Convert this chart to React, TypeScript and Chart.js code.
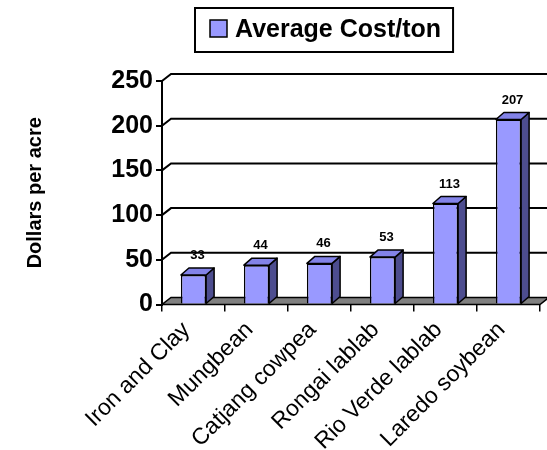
import React, { useEffect, useRef } from 'react';
import { Chart, registerables } from 'chart.js';

Chart.register(...registerables);

const categories = ['Iron and Clay', 'Mungbean', 'Catjang cowpea', 'Rongai lablab', 'Rio Verde lablab', 'Laredo soybean'];
const costValues = [33, 44, 46, 53, 113, 207];
const seriesLabel = 'Average Cost/ton';
const yTickValues = [0, 50, 100, 150, 200, 250];
const yTitle = 'Dollars per acre';

const FONT = '"Liberation Sans", Arial, Helvetica, sans-serif';
const FRONT = '#9999FF';
const TOP = '#8383E8';
const SIDE = '#4D4D8F';
const FLOOR = '#808080';
const WALL_DX = 9;
const WALL_DY = -7;
const BAR_DX = 8;
const BAR_DY = -7;

const threeD = {
  id: 'threeD',
  beforeDatasetsDraw(chart: any) {
    const { ctx, chartArea, scales } = chart;
    const { left, right } = chartArea;
    const y = scales.y;
    ctx.save();
    ctx.strokeStyle = '#000';
    ctx.lineWidth = 2;
    y.ticks.forEach((t: any) => {
      if (t.value === 0) return;
      const py = y.getPixelForValue(t.value);
      ctx.beginPath();
      ctx.moveTo(left, py);
      ctx.lineTo(left + WALL_DX, py + WALL_DY);
      ctx.lineTo(right + WALL_DX, py + WALL_DY);
      ctx.stroke();
    });
    const p0 = y.getPixelForValue(0);
    ctx.beginPath();
    ctx.moveTo(left, p0);
    ctx.lineTo(right, p0);
    ctx.lineTo(right + WALL_DX, p0 + WALL_DY);
    ctx.lineTo(left + WALL_DX, p0 + WALL_DY);
    ctx.closePath();
    ctx.fillStyle = FLOOR;
    ctx.fill();
    ctx.lineWidth = 1.5;
    ctx.stroke();
    ctx.restore();
  },
  afterDatasetsDraw(chart: any) {
    const { ctx } = chart;
    const meta = chart.getDatasetMeta(0);
    const ds = chart.data.datasets[0];
    ctx.save();
    ctx.strokeStyle = '#000';
    ctx.lineWidth = 1.5;
    ctx.lineJoin = 'round';
    meta.data.forEach((bar: any, i: number) => {
      const { x, y, base, width } = bar.getProps(['x', 'y', 'base', 'width'], true);
      const l = x - width / 2;
      const r = x + width / 2;
      // side face
      ctx.beginPath();
      ctx.moveTo(r, y);
      ctx.lineTo(r + BAR_DX, y + BAR_DY);
      ctx.lineTo(r + BAR_DX, base + BAR_DY);
      ctx.lineTo(r, base);
      ctx.closePath();
      ctx.fillStyle = SIDE;
      ctx.fill();
      ctx.stroke();
      // top face
      ctx.beginPath();
      ctx.moveTo(l, y);
      ctx.lineTo(l + BAR_DX, y + BAR_DY);
      ctx.lineTo(r + BAR_DX, y + BAR_DY);
      ctx.lineTo(r, y);
      ctx.closePath();
      ctx.fillStyle = TOP;
      ctx.fill();
      ctx.stroke();
      // value label
      ctx.fillStyle = '#000';
      ctx.font = `bold 13px ${FONT}`;
      ctx.textAlign = 'center';
      ctx.textBaseline = 'bottom';
      ctx.fillText(String(ds.data[i]), x + BAR_DX / 2, y + BAR_DY - 6);
    });
    ctx.restore();
  },
};

const boxLegend = {
  id: 'boxLegend',
  afterDraw(chart: any) {
    const { ctx } = chart;
    const ds = chart.data.datasets[0];
    ctx.save();
    ctx.font = `bold 25px ${FONT}`;
    const tw = ctx.measureText(ds.label).width;
    const x0 = 195;
    const y0 = 8;
    const h = 44;
    const padL = 15;
    const sq = 17;
    const gap = 8;
    const padR = 12;
    const w = padL + sq + gap + tw + padR;
    ctx.fillStyle = '#fff';
    ctx.fillRect(x0, y0, w, h);
    ctx.strokeStyle = '#000';
    ctx.lineWidth = 2;
    ctx.strokeRect(x0, y0, w, h);
    ctx.fillStyle = ds.backgroundColor;
    ctx.fillRect(x0 + padL, y0 + 12, sq, sq);
    ctx.lineWidth = 1.5;
    ctx.strokeRect(x0 + padL, y0 + 12, sq, sq);
    ctx.fillStyle = '#000';
    ctx.textAlign = 'left';
    ctx.textBaseline = 'alphabetic';
    ctx.fillText(ds.label, x0 + padL + sq + gap, y0 + 29);
    ctx.restore();
  },
};

export default function App() {
  const ref = useRef<HTMLCanvasElement | null>(null);
  useEffect(() => {
    if (!ref.current) return;
    const chart = new Chart(ref.current, {
      type: 'bar',
      data: {
        labels: categories,
        datasets: [
          {
            label: seriesLabel,
            data: costValues,
            backgroundColor: FRONT,
            borderColor: '#000',
            borderWidth: 1.5,
            barPercentage: 0.4,
            categoryPercentage: 1,
          },
        ],
      },
      options: {
        animation: false,
        responsive: false,
        devicePixelRatio: 1,
        layout: { padding: { top: 81, right: 7, left: 0, bottom: 0 } },
        plugins: { legend: { display: false }, tooltip: { enabled: false } },
        scales: {
          x: {
            grid: { display: true, drawOnChartArea: false, drawTicks: true, tickLength: 7, color: '#000', lineWidth: 1.5, offset: true },
            border: { display: false },
            ticks: { autoSkip: false, maxRotation: 45, minRotation: 45, font: { family: FONT, size: 23 }, color: '#000', padding: 5, labelOffset: -7 },
            afterFit(s: any) { s.height = 450 - 304.5; },
          },
          y: {
            min: 0,
            max: 250,
            afterBuildTicks(s: any) { s.ticks = yTickValues.map((v) => ({ value: v })); },
            ticks: { font: { family: FONT, size: 25, weight: 'bold' }, color: '#000', padding: 3 },
            grid: { drawOnChartArea: false, drawTicks: true, tickLength: 6, color: '#000', lineWidth: 2 },
            border: { display: true, color: '#000', width: 2 },
            title: { display: true, text: yTitle, font: { family: FONT, size: 20, weight: 'bold' }, color: '#000', padding: { top: 23, bottom: 0 } },
            afterFit(s: any) { s.width = 162; },
          },
        },
      },
      plugins: [threeD, boxLegend],
    } as any);
    return () => chart.destroy();
  }, []);
  return (
    <div style={{ position: 'fixed', left: 0, top: 0, width: 547, height: 450, background: '#fff' }}>
      <canvas ref={ref} width={547} height={450} style={{ width: 547, height: 450, display: 'block' }} />
    </div>
  );
}
